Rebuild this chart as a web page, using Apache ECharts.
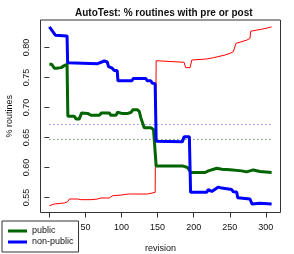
<!DOCTYPE html>
<html>
<head>
<meta charset="utf-8">
<script src="https://cdn.jsdelivr.net/npm/echarts@6/dist/echarts.min.js"></script>
<style>
html,body{margin:0;padding:0;background:#fff;}
#c{width:294px;height:254px;}
</style>
</head>
<body>
<div id="c"></div>
<script>
var titleText = 'AutoTest: % routines with pre or post';
var xTicks = [0, 50, 100, 150, 200, 250, 300];
var xLabels = [50, 100, 150, 200, 250, 300];
var yTicks = [0.55, 0.60, 0.65, 0.70, 0.75, 0.80];

var nonPublicRev = [0, 8.3, 24.5, 25.3, 66.8, 76.1, 80.2, 82, 87.1, 89.9, 94, 95, 114.4, 116.2, 133.7, 135.5, 140.7, 142.5, 146.6, 148, 184.4, 186.7, 194, 195.7, 218.1, 220.3, 225, 234.2, 238.9, 252.7, 254.9, 259.6, 261, 278, 280.8, 291.8, 308];
var nonPublicVal = [0.8344, 0.8207, 0.8195, 0.7748, 0.7732, 0.7776, 0.7760, 0.7682, 0.7656, 0.7616, 0.7616, 0.7445, 0.7445, 0.7483, 0.7483, 0.7445, 0.7445, 0.7407, 0.7396, 0.6440, 0.6430, 0.6513, 0.6513, 0.5586, 0.5586, 0.5632, 0.5599, 0.5674, 0.5657, 0.5632, 0.5596, 0.5591, 0.5497, 0.5475, 0.5392, 0.5404, 0.5392];

var publicRev = [0, 3.2, 6.9, 9.7, 16.2, 20.7, 24.5, 25.6, 34.6, 36.9, 41.5, 44.7, 53, 57.7, 69.2, 72.3, 83, 85.3, 92.3, 94.5, 101.4, 107.9, 109.3, 113.4, 115.8, 121.7, 124.5, 126.8, 129, 131.4, 140.7, 144.3, 146.6, 148, 184.4, 191.3, 196, 215.8, 220.3, 232, 238.9, 250.3, 266.5, 273.4, 282.6, 291.8, 308];
var publicVal = [0.7722, 0.7722, 0.7656, 0.7656, 0.7666, 0.7699, 0.7722, 0.6854, 0.6854, 0.6811, 0.6811, 0.6911, 0.6902, 0.6871, 0.6871, 0.6911, 0.6911, 0.6871, 0.6871, 0.6921, 0.6899, 0.6899, 0.6921, 0.6921, 0.6965, 0.6965, 0.6937, 0.6828, 0.6828, 0.6662, 0.6662, 0.6634, 0.6634, 0.6027, 0.6027, 0.6000, 0.5917, 0.5917, 0.5944, 0.5988, 0.5972, 0.5964, 0.5944, 0.5927, 0.5960, 0.5934, 0.5917];

var otherRev = [0, 6.9, 20.7, 25.3, 27.7, 39.1, 43.8, 57.7, 66.8, 71.5, 83, 87.6, 99.2, 109.3, 113.4, 136, 138.3, 146.6, 148, 150, 186.7, 188.8, 195, 197.4, 218.1, 227.2, 243.4, 250.3, 254.9, 258.6, 273.4, 278, 279, 294.2, 308];
var otherVal = [0.5364, 0.5392, 0.5409, 0.5430, 0.5475, 0.5475, 0.5464, 0.5464, 0.5475, 0.5492, 0.5492, 0.5530, 0.5541, 0.5558, 0.5558, 0.5558, 0.5586, 0.5586, 0.7781, 0.7755, 0.7755, 0.7666, 0.7666, 0.7793, 0.7810, 0.7831, 0.7876, 0.7904, 0.7930, 0.8070, 0.8124, 0.8152, 0.8273, 0.8306, 0.8344];

var meanRevRange = [0, 308];
var meanNonPublic = 0.6717;
var meanPublic = 0.6469;

function zip(a, b) { return a.map(function (v, i) { return [v, b[i]]; }); }

var FONT = '"Liberation Sans", Arial, sans-serif';
var chart = echarts.init(document.getElementById('c'), null, {renderer: 'canvas'});
chart.setOption({
  animation: false,
  backgroundColor: '#ffffff',
  textStyle: {fontFamily: FONT},
  title: {
    text: titleText,
    left: 70, top: 3,
    textStyle: {fontFamily: FONT, fontSize: 10, fontWeight: 'bold', color: '#111'}
  },
  grid: {
    left: 40.5, right: 13.5, top: 20, bottom: 41.5,
    outerBoundsMode: 'none', containLabel: false,
    show: true, borderColor: '#333', borderWidth: 1, backgroundColor: 'transparent'
  },
  legend: {
    data: [{name: 'public', icon: 'rect'}, {name: 'non-public', icon: 'rect'}],
    orient: 'vertical',
    left: 2, top: 221,
    padding: [5, 5, 5, 6],
    itemGap: 1,
    itemWidth: 19, itemHeight: 3,
    borderColor: '#333', borderWidth: 1, borderRadius: 0,
    backgroundColor: '#fff',
    textStyle: {fontFamily: FONT, fontSize: 9, color: '#111', lineHeight: 10, padding: [0, 0, 0, 0]},
    selectedMode: false
  },
  xAxis: {
    type: 'value', min: -12.3, max: 320.3,
    name: 'revision', nameLocation: 'middle', nameGap: 32,
    nameTextStyle: {fontFamily: FONT, fontSize: 9, color: '#111'},
    axisLine: {show: false},
    axisTick: {show: true, inside: false, length: 5, customValues: xTicks, lineStyle: {color: '#333'}},
    axisLabel: {customValues: xLabels, fontSize: 9, color: '#111', margin: 11, fontFamily: FONT},
    splitLine: {show: false}
  },
  yAxis: {
    type: 'value', min: 0.5250, max: 0.8460,
    name: '% routines', nameLocation: 'middle', nameGap: 26, nameRotate: 90,
    nameTextStyle: {fontFamily: FONT, fontSize: 9, color: '#111'},
    axisLine: {show: false},
    axisTick: {show: true, inside: false, length: 5, customValues: yTicks, lineStyle: {color: '#333'}},
    axisLabel: {customValues: yTicks, rotate: 90, fontSize: 9, color: '#111', margin: 9, fontFamily: FONT,
      formatter: function (v) { return v.toFixed(2); }},
    splitLine: {show: false}
  },
  series: [
    {name: 'other', type: 'line', data: zip(otherRev, otherVal), symbol: 'none',
     lineStyle: {color: '#ff0000', width: 1}, itemStyle: {color: '#ff0000'}, z: 2},
    {name: 'public mean', type: 'line', data: zip(meanRevRange, [meanPublic, meanPublic]), symbol: 'none',
     lineStyle: {color: '#006400', width: 1, type: [1, 3]}, itemStyle: {color: '#006400'}, z: 1},
    {name: 'non-public mean', type: 'line', data: zip(meanRevRange, [meanNonPublic, meanNonPublic]), symbol: 'none',
     lineStyle: {color: '#4a4aff', width: 1, type: [1, 3]}, itemStyle: {color: '#4a4aff'}, z: 1},
    {name: 'public', type: 'line', data: zip(publicRev, publicVal), symbol: 'none',
     lineStyle: {color: '#006400', width: 3}, itemStyle: {color: '#006400'}, z: 3},
    {name: 'non-public', type: 'line', data: zip(nonPublicRev, nonPublicVal), symbol: 'none',
     lineStyle: {color: '#0000ff', width: 3}, itemStyle: {color: '#0000ff'}, z: 4}
  ]
});
</script>
</body>
</html>
